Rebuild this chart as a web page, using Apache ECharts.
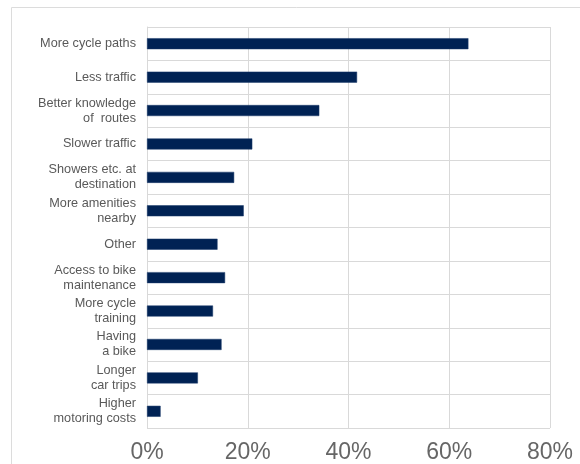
<!DOCTYPE html>
<html><head><meta charset="utf-8">
<script src="https://cdn.jsdelivr.net/npm/echarts@6/dist/echarts.min.js"></script>
<style>html,body{margin:0;padding:0;background:#fff}#c{width:580px;height:464px}</style>
</head><body><div id="c"></div>
<script>
const categories = ["More cycle paths","Less traffic","Better knowledge\nof  routes","Slower traffic","Showers etc. at\ndestination","More amenities\nnearby","Other","Access to bike\nmaintenance","More cycle\ntraining","Having\na bike","Longer\ncar trips","Higher\nmotoring costs"];
const values = [63.8,41.7,34.2,20.9,17.3,19.2,14.0,15.5,13.1,14.8,10.1,2.7];
const xTicks = [0,20,40,60,80];

const chart = echarts.init(document.getElementById('c'), null, {renderer:'canvas'});
chart.setOption({
  animation:false,
  backgroundColor:'#fff',
  graphic:[{type:'rect',shape:{x:11.5,y:7.5,width:620,height:520},style:{fill:'none',stroke:'#dcdcdc',lineWidth:1}}],
  grid:{left:147,right:30,top:27,bottom:36,containLabel:false},
  xAxis:{type:'value',min:xTicks[0],max:xTicks[xTicks.length-1],interval:20,
    axisLine:{show:false},axisTick:{show:false},
    splitLine:{show:true,lineStyle:{color:'#d9d9d9',width:1}},
    axisLabel:{formatter:v=>v+'%',fontSize:23,color:'#666666',margin:13,fontFamily:'Liberation Sans, Arial, sans-serif'}},
  yAxis:{type:'category',data:categories,inverse:true,boundaryGap:true,
    axisLine:{show:true,lineStyle:{color:'#d9d9d9'}},axisTick:{show:false},
    splitLine:{show:true,lineStyle:{color:'#d9d9d9',width:1}},
    axisLabel:{fontSize:12.7,color:'#595959',margin:11,lineHeight:15,align:'right',fontFamily:'Liberation Sans, Arial, sans-serif'}},
  series:[{type:'bar',data:values,barWidth:11,
    itemStyle:{color:'#002254',borderColor:'#1a3a6a',borderWidth:0.5}}]
});
</script></body></html>
